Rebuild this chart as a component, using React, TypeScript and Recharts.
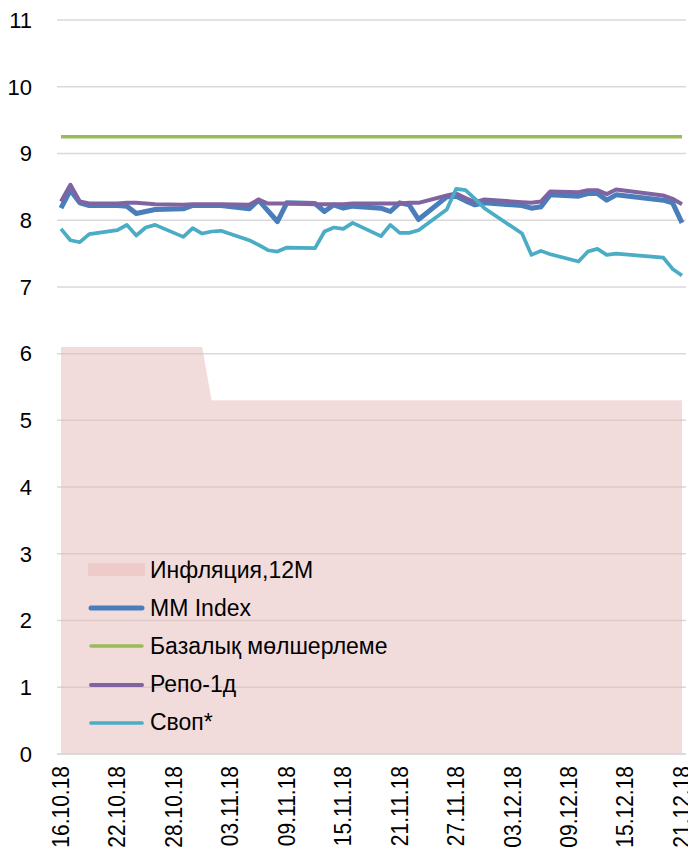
import React from 'react';
import { ComposedChart, Area, Line, XAxis, YAxis, CartesianGrid, Legend } from 'recharts';

// x tick labels (every 6th calendar day starting 16.10.18)
const tickLabels = ['16.10.18', '22.10.18', '28.10.18', '03.11.18', '09.11.18', '15.11.18', '21.11.18', '27.11.18', '03.12.18', '09.12.18', '15.12.18', '21.12.18'];
const tickDays = [0, 6, 12, 18, 24, 30, 36, 42, 48, 54, 60, 66];
const yTicks = [0, 1, 2, 3, 4, 5, 6, 7, 8, 9, 10, 11];

// Daily values, day 0 = 16.10.18 (Tue). null = non-trading day.
const inflation = [
  6.1, 6.1, 6.1, 6.1, 6.1, 6.1,
  6.1, 6.1, 6.1, 6.1, 6.1, 6.1, 6.1,
  6.1, 6.1, 6.1, 5.3, 5.3, 5.3, 5.3,
  5.3, 5.3, 5.3, 5.3, 5.3, 5.3, 5.3,
  5.3, 5.3, 5.3, 5.3, 5.3, 5.3, 5.3,
  5.3, 5.3, 5.3, 5.3, 5.3, 5.3, 5.3,
  5.3, 5.3, 5.3, 5.3, 5.3, 5.3, 5.3,
  5.3, 5.3, 5.3, 5.3, 5.3, 5.3, 5.3,
  5.3, 5.3, 5.3, 5.3, 5.3, 5.3, 5.3,
  5.3, 5.3, 5.3, 5.3, 5.3,
];

const mmIndex = [
  8.18, 8.45, 8.26, 8.22, null, null,
  8.22, 8.21, 8.10, 8.13, 8.16, null, null,
  8.17, 8.22, 8.22, 8.22, 8.22, null, null,
  8.17, 8.30, 8.14, 7.98, 8.26, null, null,
  8.25, 8.13, 8.23, 8.18, 8.21, null, null,
  8.18, 8.13, 8.26, 8.23, 8.01, null, null,
  8.35, 8.36, 8.29, 8.23, 8.26, null, null,
  null, 8.22, 8.18, 8.20, 8.38, null, null,
  8.36, 8.40, 8.40, 8.30, 8.38, null, null,
  null, null, 8.30, 8.26, 7.96,
];

const baseRate = [
  9.25, 9.25, 9.25, 9.25, 9.25, 9.25,
  9.25, 9.25, 9.25, 9.25, 9.25, 9.25, 9.25,
  9.25, 9.25, 9.25, 9.25, 9.25, 9.25, 9.25,
  9.25, 9.25, 9.25, 9.25, 9.25, 9.25, 9.25,
  9.25, 9.25, 9.25, 9.25, 9.25, 9.25, 9.25,
  9.25, 9.25, 9.25, 9.25, 9.25, 9.25, 9.25,
  9.25, 9.25, 9.25, 9.25, 9.25, 9.25, 9.25,
  9.25, 9.25, 9.25, 9.25, 9.25, 9.25, 9.25,
  9.25, 9.25, 9.25, 9.25, 9.25, 9.25, 9.25,
  9.25, 9.25, 9.25, 9.25, 9.25,
];

const repo1d = [
  8.28, 8.53, 8.28, 8.25, null, null,
  8.25, 8.26, 8.26, 8.25, 8.24, null, null,
  8.23, 8.24, 8.24, 8.24, 8.24, null, null,
  8.23, 8.31, 8.25, 8.25, 8.25, null, null,
  8.24, 8.24, 8.24, 8.24, 8.25, null, null,
  8.25, 8.25, 8.25, 8.26, 8.26, null, null,
  8.37, 8.40, 8.33, 8.27, 8.31, null, null,
  null, 8.27, 8.26, 8.28, 8.43, null, null,
  8.42, 8.45, 8.45, 8.39, 8.46, null, null,
  null, null, 8.37, 8.32, 8.24,
];

const swap = [
  7.87, 7.70, 7.67, 7.79, null, null,
  7.85, 7.93, 7.77, 7.89, 7.93, null, null,
  7.75, 7.88, 7.80, 7.83, 7.84, null, null,
  7.70, 7.63, 7.55, 7.53, 7.59, null, null,
  7.58, 7.83, 7.89, 7.87, 7.96, null, null,
  7.76, 7.93, 7.81, 7.81, 7.85, null, null,
  8.16, 8.47, 8.45, 8.32, 8.18, null, null,
  null, 7.80, 7.48, 7.54, 7.49, null, null,
  7.38, 7.53, 7.57, 7.48, 7.50, null, null,
  null, null, 7.44, 7.27, 7.17,
];

const data = inflation.map((v, i) => ({
  day: i,
  inflation: v,
  mm: mmIndex[i],
  base: baseRate[i],
  repo: repo1d[i],
  swap: swap[i],
}));

const AREA_FILL = '#E6B9B8';
const legendItems = [
  { name: 'Инфляция,12М', color: AREA_FILL, kind: 'area', width: 0 },
  { name: 'MM Index', color: '#4A7EBB', kind: 'line', width: 5 },
  { name: 'Базалық мөлшерлеме', color: '#9BBB59', kind: 'line', width: 3.5 },
  { name: 'Репо-1д', color: '#8064A2', kind: 'line', width: 4 },
  { name: 'Своп*', color: '#4BACC6', kind: 'line', width: 3.7 },
];

const FONT = '"Liberation Sans", Arial, sans-serif';

const XTick = (props: any) => {
  const { x, y, payload } = props;
  const idx = tickDays.indexOf(payload.value);
  const label = idx >= 0 ? tickLabels[idx] : '';
  return (
    <g transform={`translate(${x}, ${y}) rotate(-90) scale(1, 1.1)`}>
      <text
        x={0}
        y={0}
        textAnchor="end"
        dy="0.34em"
        fontSize={21}
        fontFamily={FONT}
        fill="#000"
      >
        {label}
      </text>
    </g>
  );
};

const LegendContent = () => (
  <div style={{ display: 'flex', flexDirection: 'column', fontFamily: FONT, fontSize: 23, color: '#000' }}>
    {legendItems.map((it) => (
      <div key={it.name} style={{ display: 'flex', alignItems: 'center', height: 38.2 }}>
        <svg width={62} height={20} style={{ display: 'block' }}>
          {it.kind === 'area' ? (
            <rect x={0} y={3} width={57} height={13} fill={it.color} fillOpacity={0.5} />
          ) : (
            <line x1={3} y1={10} x2={54} y2={10} stroke={it.color} strokeWidth={it.width} strokeLinecap="round" />
          )}
        </svg>
        <span style={{ whiteSpace: 'nowrap' }}>{it.name}</span>
      </div>
    ))}
  </div>
);

export default function App() {
  return (
    <ComposedChart
      width={688}
      height={839}
      data={data}
      margin={{ top: 12, right: 10, left: 0, bottom: 0 }}
    >
      <CartesianGrid vertical={false} stroke="#D9D9D9" strokeWidth={1.5} />
      <XAxis
        dataKey="day"
        type="number"
        domain={[0, 66]}
        ticks={tickDays}
        interval={0}
        padding={{ left: 4, right: 4 }}
        height={93}
        tickLine={false}
        tickSize={0}
        tickMargin={12}
        axisLine={{ stroke: '#D9D9D9', strokeWidth: 1.5 }}
        tick={<XTick />}
      />
      <YAxis
        domain={[0, 11]}
        ticks={yTicks}
        interval={0}
        width={49}
        axisLine={false}
        tickLine={false}
        tickSize={0}
        tickMargin={25}
        tick={{ fontSize: 22, fontFamily: FONT, fill: '#000' }}
      />
      <Area
        type="linear"
        dataKey="inflation"
        name="Инфляция,12М"
        fill={AREA_FILL}
        fillOpacity={0.5}
        stroke="none"
        isAnimationActive={false}
      />
      <Line type="linear" dataKey="mm" name="MM Index" stroke="#4A7EBB" strokeWidth={5} dot={false} connectNulls strokeLinejoin="round" isAnimationActive={false} />
      <Line type="linear" dataKey="base" name="Базалық мөлшерлеме" stroke="#9BBB59" strokeWidth={3.5} dot={false} connectNulls isAnimationActive={false} />
      <Line type="linear" dataKey="repo" name="Репо-1д" stroke="#8064A2" strokeWidth={4} dot={false} connectNulls strokeLinejoin="round" isAnimationActive={false} />
      <Line type="linear" dataKey="swap" name="Своп*" stroke="#4BACC6" strokeWidth={3.7} dot={false} connectNulls strokeLinejoin="round" isAnimationActive={false} />
      <Legend
        layout="vertical"
        align="center"
        verticalAlign="middle"
        content={<LegendContent />}
        wrapperStyle={{ left: 80, top: 543, width: 330, height: 192 }}
      />
    </ComposedChart>
  );
}
